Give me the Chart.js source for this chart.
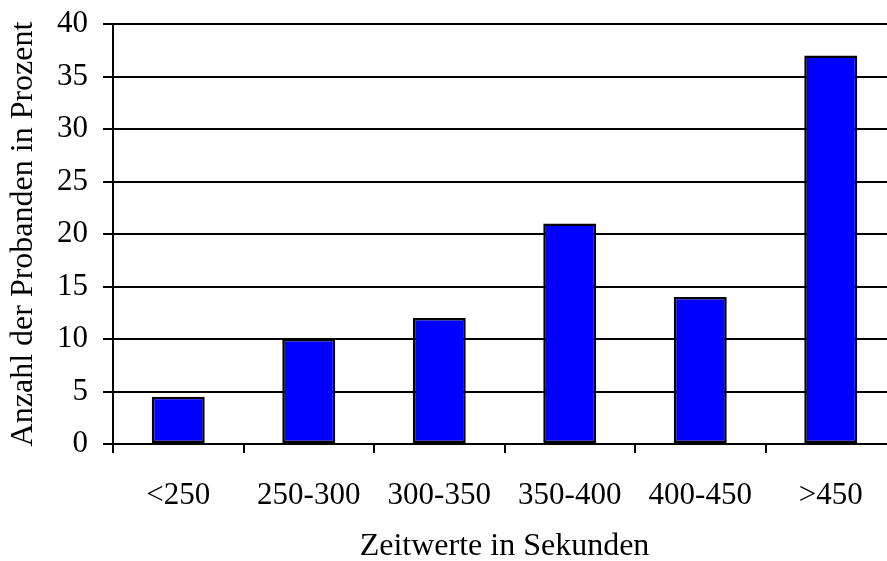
<!DOCTYPE html>
<html>
<head>
<meta charset="utf-8">
<script src="https://cdn.jsdelivr.net/npm/chart.js@4/dist/chart.umd.min.js"></script>
<style>
  html, body { margin: 0; padding: 0; background: #fff; }
  #wrap { width: 887px; height: 561px; overflow: hidden; position: relative; }
  #c { position: absolute; left: 0; top: 0; }
</style>
</head>
<body>
<div id="wrap"><canvas id="c" width="920" height="561"></canvas></div>
<script>
// Zeitklassen und Anteil der Probanden (%)
const categories = ['<250', '250-300', '300-350', '350-400', '400-450', '>450'];
const anteil = [4.5, 10, 12, 21, 14, 37];
const yTicks = [0, 5, 10, 15, 20, 25, 30, 35, 40];

const serif = 'Liberation Serif, Times New Roman, serif';

new Chart(document.getElementById('c'), {
  type: 'bar',
  data: {
    labels: categories,
    datasets: [{
      data: anteil,
      backgroundColor: '#0000ff',
      borderColor: '#000000',
      borderWidth: 2.5,
      borderSkipped: false,
      categoryPercentage: 1,
      barPercentage: 0.406
    }]
  },
  options: {
    responsive: false,
    animation: false,
    events: [],
    layout: { padding: { top: 24, right: 24, bottom: 0, left: 0 } },
    plugins: { legend: { display: false }, tooltip: { enabled: false } },
    scales: {
      x: {
        afterFit: s => { s.height = 117; s.paddingLeft = 0; s.paddingRight = 0; },
        grid: { drawOnChartArea: false, drawTicks: true, tickLength: 9, color: '#000', lineWidth: 2, offset: true },
        border: { display: true, color: '#000', width: 2 },
        ticks: { color: '#000', padding: 24, font: { family: serif, size: 31 }, maxRotation: 0 },
        title: {
          display: true,
          text: 'Zeitwerte in Sekunden',
          color: '#000',
          font: { family: serif, size: 32, lineHeight: 0.9 },
          padding: { top: 0, bottom: 0 }
        }
      },
      y: {
        min: 0,
        max: 40,
        afterFit: s => { s.width = 113; s.paddingTop = 0; s.paddingBottom = 0; },
        afterBuildTicks: s => { s.ticks = yTicks.map(v => ({ value: v })); },
        grid: { color: '#000', lineWidth: 2, tickLength: 10, drawTicks: true },
        border: { display: true, color: '#000', width: 2 },
        ticks: { color: '#000', padding: 15, font: { family: serif, size: 31 } },
        title: {
          display: true,
          text: 'Anzahl der Probanden in Prozent',
          color: '#000',
          font: { family: serif, size: 32, lineHeight: 0.9 },
          padding: { top: 9, bottom: 0 }
        }
      }
    }
  }
});
</script>
</body>
</html>
